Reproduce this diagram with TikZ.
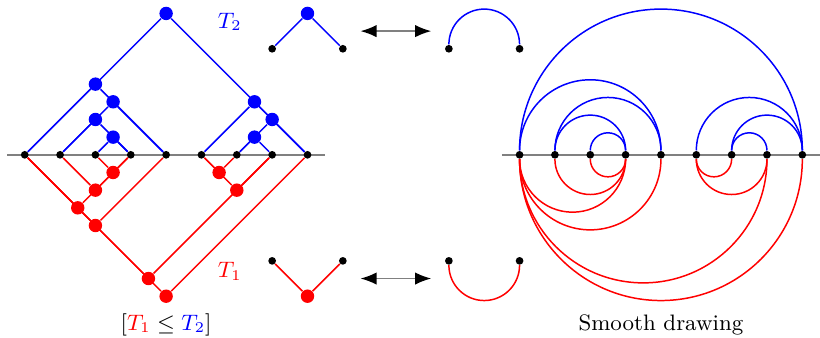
\documentclass[tikz,border=0pt]{standalone}
\usetikzlibrary{arrows.meta}
\begin{document}
\begin{tikzpicture}[
    x = 0.5cm, y = 0.5cm,
    font = \small,
    leaf/.style   = {circle, fill=black, inner sep=0pt,
                     minimum size=3.1pt},
    upnode/.style = {circle, fill=blue, inner sep=0pt,
                     minimum size=5.4pt},
    dnnode/.style = {circle, fill=red, inner sep=0pt,
                     minimum size=5.4pt},
    axis/.style   = {gray, thick},
    bl/.style     = {blue, semithick},
    rd/.style     = {red, semithick},
    arr/.style    = {gray, semithick,
                     {Latex[color=black,length=6.5pt,width=5pt]}-{Latex[color=black,length=6.5pt,width=5pt]}}
]
\useasboundingbox (-0.7,-5.18) rectangle (22.5,4.38);
\draw[axis] (-0.5,0) -- (8.5,0);
\draw[axis] (13.5,0) -- (22.5,0);

\node (a0) [leaf] at (0,0) {};
\node (a1) [leaf] at (1,0) {};
\node (a2) [leaf] at (2,0) {};
\node (a3) [leaf] at (3,0) {};
\node (a4) [leaf] at (4,0) {};
\node (a5) [leaf] at (5,0) {};
\node (a6) [leaf] at (6,0) {};
\node (a7) [leaf] at (7,0) {};
\node (a8) [leaf] at (8,0) {};

\node (u08) [upnode] at (4,4) {};
\node (u04) [upnode] at (2,2) {};
\node (u14) [upnode] at (2.5,1.5) {};
\node (u13) [upnode] at (2,1) {};
\node (u23) [upnode] at (2.5,0.5) {};
\node (u58) [upnode] at (6.5,1.5) {};
\node (u68) [upnode] at (7,1) {};
\node (u67) [upnode] at (6.5,0.5) {};
\draw[bl] (a0) -- (u08) -- (a8);
\draw[bl] (a0) -- (u04) -- (a4);
\draw[bl] (a1) -- (u14) -- (a4);
\draw[bl] (a1) -- (u13) -- (a3);
\draw[bl] (a2) -- (u23) -- (a3);
\draw[bl] (a5) -- (u58) -- (a8);
\draw[bl] (a6) -- (u68) -- (a8);
\draw[bl] (a6) -- (u67) -- (a7);

\node (d23) [dnnode] at (2.5,-0.5) {};
\node (d13) [dnnode] at (2,-1) {};
\node (d03) [dnnode] at (1.5,-1.5) {};
\node (d04) [dnnode] at (2,-2) {};
\node (d56) [dnnode] at (5.5,-0.5) {};
\node (d57) [dnnode] at (6,-1) {};
\node (d07) [dnnode] at (3.5,-3.5) {};
\node (d08) [dnnode] at (4,-4) {};
\draw[rd] (a2) -- (d23) -- (a3);
\draw[rd] (a1) -- (d13) -- (a3);
\draw[rd] (a0) -- (d03) -- (a3);
\draw[rd] (a0) -- (d04) -- (a4);
\draw[rd] (a5) -- (d56) -- (a6);
\draw[rd] (a5) -- (d57) -- (a7);
\draw[rd] (a0) -- (d07) -- (a7);
\draw[rd] (a0) -- (d08) -- (a8);

\node (t2) [text=blue] at (5.8,3.76) {$T_2$};
\node (t1) [text=red] at (5.8,-3.3) {$T_1$};
\node (cap1) at (4,-4.8) {$[{\color{red}T_1}\leq{\color{blue}T_2}]$};

\node (p1) [leaf] at (7,3) {};
\node (p2) [leaf] at (9,3) {};
\node (pu) [upnode] at (8,4) {};
\draw[bl] (p1) -- (pu) -- (p2);
\node (m1) [leaf] at (7,-3) {};
\node (m2) [leaf] at (9,-3) {};
\node (md) [dnnode] at (8,-4) {};
\draw[rd] (m1) -- (md) -- (m2);

\coordinate (e1) at (9.5,3.5);
\coordinate (e2) at (11.5,3.5);
\draw[arr] (e1) -- (e2);
\coordinate (f1) at (9.5,-3.5);
\coordinate (f2) at (11.5,-3.5);
\draw[arr] (f1) -- (f2);

\node (q1) [leaf] at (12,3) {};
\node (q2) [leaf] at (14,3) {};
\draw[bl] (q1.north) arc[start angle=180, end angle=0, radius=0.5cm];
\node (n1) [leaf] at (12,-3) {};
\node (n2) [leaf] at (14,-3) {};
\draw[rd] (n1.south) arc[start angle=180, end angle=360, radius=0.5cm];

\node (s0) [leaf] at (14,0) {};
\node (s1) [leaf] at (15,0) {};
\node (s2) [leaf] at (16,0) {};
\node (s3) [leaf] at (17,0) {};
\node (s4) [leaf] at (18,0) {};
\node (s5) [leaf] at (19,0) {};
\node (s6) [leaf] at (20,0) {};
\node (s7) [leaf] at (21,0) {};
\node (s8) [leaf] at (22,0) {};
\draw[bl] (s0.north) arc[start angle=180, end angle=0, radius=2cm];
\draw[bl] (s0.north) arc[start angle=180, end angle=0, radius=1cm];
\draw[bl] (s1.north) arc[start angle=180, end angle=0, radius=0.75cm];
\draw[bl] (s1.north) arc[start angle=180, end angle=0, radius=0.5cm];
\draw[bl] (s2.north) arc[start angle=180, end angle=0, radius=0.25cm];
\draw[bl] (s5.north) arc[start angle=180, end angle=0, radius=0.75cm];
\draw[bl] (s6.north) arc[start angle=180, end angle=0, radius=0.5cm];
\draw[bl] (s6.north) arc[start angle=180, end angle=0, radius=0.25cm];
\draw[rd] (s2.south) arc[start angle=180, end angle=360, radius=0.25cm];
\draw[rd] (s1.south) arc[start angle=180, end angle=360, radius=0.5cm];
\draw[rd] (s0.south) arc[start angle=180, end angle=360, radius=0.75cm];
\draw[rd] (s0.south) arc[start angle=180, end angle=360, radius=1cm];
\draw[rd] (s5.south) arc[start angle=180, end angle=360, radius=0.25cm];
\draw[rd] (s5.south) arc[start angle=180, end angle=360, radius=0.5cm];
\draw[rd] (s0.south) arc[start angle=180, end angle=360, radius=1.75cm];
\draw[rd] (s0.south) arc[start angle=180, end angle=360, radius=2cm];

\node (cap2) at (18,-4.8) {Smooth drawing};
\end{tikzpicture}
\end{document}
